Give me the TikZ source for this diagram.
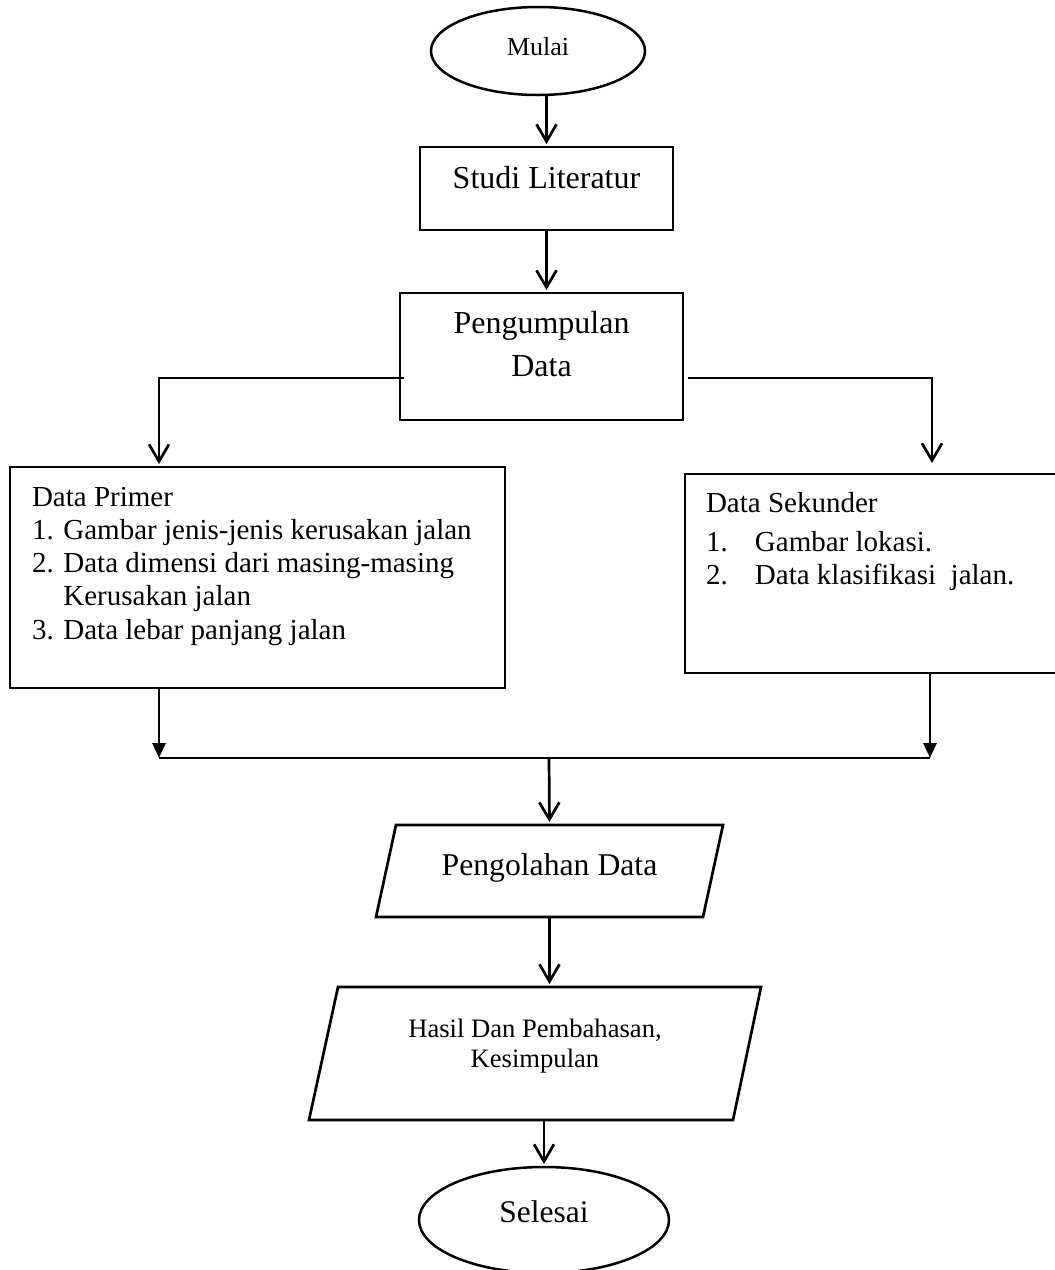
\documentclass[tikz,border=0pt]{standalone}
\usepackage{fontspec}
\setmainfont{Liberation Serif}
\usetikzlibrary{arrows.meta,shapes.geometric,calc}
\begin{document}
\begin{tikzpicture}[x=1pt,y=-1pt,
  line width=2.7pt,
  box/.style={draw, rectangle, inner sep=0pt, outer sep=0pt},
  plain/.style={rectangle, inner sep=0pt, outer sep=0pt},
  oval/.style={draw, ellipse, inner sep=0pt, outer sep=0pt, line width=2.5pt},
  arr/.style={-{Straight Barb[length=17pt,width=20pt]}, shorten >=3pt},
  farr/.style={-{Triangle[length=15pt,width=13pt]}},
  ]
\useasboundingbox (0,0) rectangle (1055,1270);

\node[oval, minimum width=214pt, minimum height=88pt, text height=8pt, text depth=0pt,
      font=\fontsize{26}{30}\selectfont] (mulai) at (538,51) {Mulai};

\node[box, minimum width=253pt, minimum height=83pt, text height=41pt, text depth=42pt,
      font=\fontsize{32}{36}\selectfont] (studi) at (546.5,188.5) {Studi Literatur};

\node[box, minimum width=283pt, minimum height=127pt, text height=40pt, text depth=87pt,
      font=\fontsize{32}{43}\selectfont] (peng) at (541.5,356.5)
      {\begin{tabular}[t]{@{}c@{}}Pengumpulan\\Data\end{tabular}};

\node[box, minimum width=495pt, minimum height=221pt, inner xsep=22pt, text height=39pt, text depth=182pt,
      font=\fontsize{29}{33.3}\selectfont] (primer) at (257.5,577.5)
      {\parbox[t]{451pt}{Data Primer\\1. Gambar jenis-jenis kerusakan jalan\\2. Data dimensi dari masing-masing\\\phantom{2. }Kerusakan jalan\\3. Data lebar panjang jalan}};

\node[box, minimum width=390pt, minimum height=199pt, inner xsep=21pt, text height=38pt, text depth=161pt,
      font=\fontsize{29}{33}\selectfont] (sek) at (880,573.5)
      {\parbox[t]{348pt}{Data Sekunder\\[6pt]\makebox[49pt][l]{1.}Gambar lokasi.\\\makebox[49pt][l]{2.}Data klasifikasi\ \ jalan.}};

\node[plain, minimum width=347pt, minimum height=92pt, text height=8pt, text depth=0pt,
      font=\fontsize{31.7}{36}\selectfont] (pg) at (549.5,871) {Pengolahan Data};
\draw ([xshift=20pt]pg.north west) -- (pg.north east) -- ([xshift=-20pt]pg.south east) -- (pg.south west) -- cycle;

\node[plain, minimum width=452pt, minimum height=133pt, text height=50pt, text depth=83pt,
      font=\fontsize{26.6}{30}\selectfont] (hasil) at (535,1053.5)
      {\begin{tabular}[t]{@{}c@{}}Hasil Dan Pembahasan,\\Kesimpulan\end{tabular}};
\draw ([xshift=29pt]hasil.north west) -- (hasil.north east) -- ([xshift=-28pt]hasil.south east) -- (hasil.south west) -- cycle;

\node[oval, minimum width=250pt, minimum height=106pt, text height=5pt, text depth=0pt,
      font=\fontsize{31.5}{36}\selectfont] (selesai) at (544,1220) {Selesai};

\coordinate (pL) at (404,378);
\coordinate (pR) at (688,378);
\coordinate (jl) at (159,758);
\coordinate (jr) at (930,758);
\coordinate (jm) at (549,758);

\draw[arr] (studi.north |- mulai.south) -- (studi.north);
\draw[arr] (studi.south) -- (studi.south |- peng.north);
\draw[arr] (pL) -| ([xshift=-98.5pt]primer.north);
\draw[arr] (pR) -| ([xshift=52pt,yshift=8pt]sek.north);
\draw[farr] ([xshift=-98.5pt]primer.south) -- (jl);
\draw[farr] ([xshift=50pt]sek.south) -- (jr);
\draw (jl) -- (jr);
\draw[arr] (jm) -- (pg.north);
\draw[arr] (pg.south) -- (pg.south |- hasil.north);
\draw[arr] (selesai.north |- hasil.south) -- (selesai.north);
\end{tikzpicture}
\end{document}
